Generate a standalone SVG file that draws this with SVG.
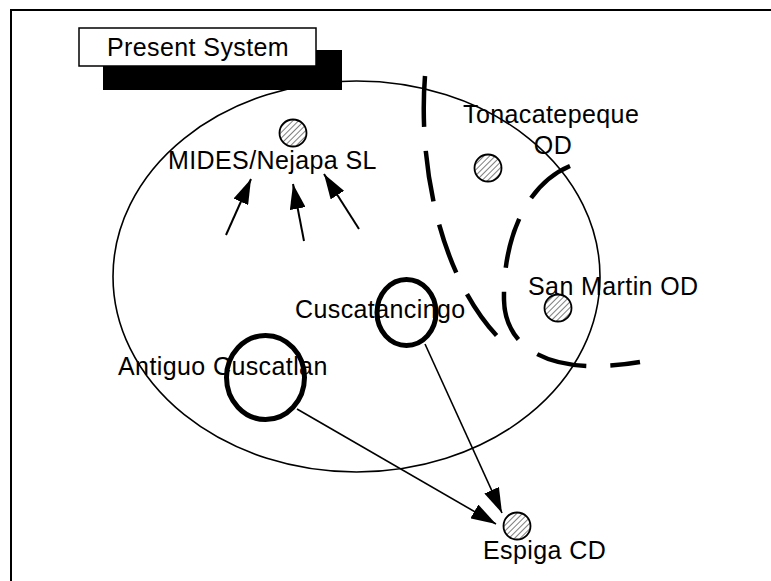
<svg xmlns="http://www.w3.org/2000/svg" width="771" height="581" viewBox="0 0 771 581">
  <style>
    .lbl { font-family: "Liberation Sans", Arial, sans-serif; font-size: 25px; letter-spacing: 0.4px; fill: #000; }
    .site { fill: url(#hatch); stroke: #000; stroke-width: 1.8; }
    .town { fill: none; stroke: #000; stroke-width: 5; }
    .zone { fill: none; stroke: #000; stroke-width: 4.5; stroke-dasharray: 51 24; }
    .flow { fill: none; stroke: #000; stroke-width: 1.6; marker-end: url(#head); }
    .feed { fill: none; stroke: #000; stroke-width: 2; marker-end: url(#head); }
  </style>
  <defs>
    <pattern id="hatch" patternUnits="userSpaceOnUse" width="4" height="4" patternTransform="rotate(45)">
      <rect width="4" height="4" fill="#fff"/>
      <line x1="0" y1="0" x2="0" y2="4" stroke="#000" stroke-width="1"/>
    </pattern>
    <marker id="head" markerUnits="userSpaceOnUse" markerWidth="26" markerHeight="16" refX="25" refY="8" orient="auto">
      <path d="M0,0 L25,8 L0,16 Z" fill="#000"/>
    </marker>
  </defs>

  <rect width="771" height="581" fill="#fff"/>
  <!-- page frame -->
  <rect x="11" y="10" width="800" height="620" fill="none" stroke="#000" stroke-width="2"/>

  <!-- title tag with drop shadow -->
  <g id="title">
    <rect x="103" y="50" width="239" height="40" fill="#000"/>
    <rect x="79" y="28" width="237" height="38" fill="#fff" stroke="#000" stroke-width="1.5"/>
    <text class="lbl" x="107" y="56">Present System</text>
  </g>

  <!-- service area -->
  <g id="service-area">
    <ellipse cx="356.5" cy="276.5" rx="243.5" ry="195.5" fill="none" stroke="#000" stroke-width="1.6"/>
  </g>

  <!-- dashed district boundaries -->
  <g id="boundaries">
    <path class="zone" d="M425,76 C418,165 440,275 497,336"/>
    <path class="zone" d="M570,166 C525,185 503,240 504,300 C505,345 545,378 640,362"/>
  </g>

  <!-- labels -->
  <g id="labels">
    <text class="lbl" x="168" y="169">MIDES/Nejapa SL</text>
    <text class="lbl" x="463" y="123">Tonacatepeque</text>
    <text class="lbl" x="553" y="154" text-anchor="middle">OD</text>
    <text class="lbl" x="528" y="295">San Martin OD</text>
    <text class="lbl" x="295" y="318">Cuscatancingo</text>
    <text class="lbl" x="118" y="375">Antiguo Cuscatlan</text>
    <text class="lbl" x="483" y="559">Espiga CD</text>
  </g>

  <!-- disposal sites -->
  <g id="mides"><circle class="site" cx="293" cy="133" r="13.5"/></g>
  <g id="tonacatepeque"><circle class="site" cx="488" cy="168" r="13.5"/></g>
  <g id="san-martin"><circle class="site" cx="558" cy="308" r="13.5"/></g>
  <g id="espiga"><circle class="site" cx="517" cy="526" r="13.5"/></g>

  <!-- municipalities -->
  <g id="cuscatancingo"><ellipse class="town" cx="406.5" cy="312.5" rx="29.5" ry="33"/></g>
  <g id="antiguo-cuscatlan"><ellipse class="town" cx="265.5" cy="377.5" rx="39" ry="42"/></g>

  <!-- connectors -->
  <g id="connectors">
    <line class="feed" x1="226" y1="235" x2="251" y2="179"/>
    <line class="feed" x1="304" y1="241" x2="293" y2="184"/>
    <line class="feed" x1="359" y1="229" x2="324" y2="174"/>
    <line class="flow" x1="297" y1="409" x2="496" y2="524"/>
    <line class="flow" x1="425" y1="344" x2="502" y2="513"/>
  </g>
</svg>
